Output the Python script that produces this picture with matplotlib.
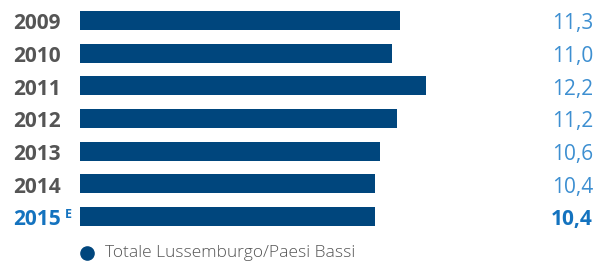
import matplotlib
matplotlib.use('Agg')
import matplotlib.pyplot as plt
import matplotlib.transforms as mtransforms

years = ['2009', '2010', '2011', '2012', '2013', '2014', '2015']
values = [11.3, 11.0, 12.2, 11.2, 10.6, 10.4, 10.4]
value_labels = ['11,3', '11,0', '12,2', '11,2', '10,6', '10,4', '10,4']
legend_label = 'Totale Lussemburgo/Paesi Bassi'

bar_color = '#00467d'
gray = '#555555'
light_blue = '#3d8fd1'
dark_blue = '#1473bf'

plt.rcParams['font.family'] = ['Open Sans', 'DejaVu Sans']

W, H = 598, 264
fig = plt.figure(figsize=(W / 100, H / 100), dpi=100)
ax = fig.add_axes([80 / W, 0, 1 - 80 / W, 1])
ax.axis('off')

px_per_unit = 28.32
pitch = 32.67
top = 20.5
ax.set_xlim(0, (W - 80) / px_per_unit)
ax.set_ylim((H - top) / pitch, -top / pitch)

ypos = list(range(len(years)))
ax.barh(ypos, values, height=19 / pitch, color=bar_color)

trans = mtransforms.blended_transform_factory(fig.transFigure, ax.transData)
for i, (y, lab) in enumerate(zip(years, value_labels)):
    last = i == len(years) - 1
    ax.text(13 / W, i + 0.1, y, transform=trans, ha='left', va='center',
            fontsize=15, fontweight='bold', color=dark_blue if last else gray)
    ax.text(593 / W, i + 0.1, lab, transform=trans, ha='right', va='center',
            fontsize=15, fontweight='bold' if last else 'normal',
            color=dark_blue if last else light_blue)

ax.text(65 / W, 6 - 0.05, 'E', transform=trans, ha='left', va='center',
        fontsize=9, fontweight='bold', color=dark_blue)

# legenda
ly = (253 - top) / pitch
ax.plot([7 / px_per_unit], [ly], 'o', markersize=9.5, color=bar_color, clip_on=False)
ax.text(105 / W, ly, legend_label, transform=trans, ha='left', va='center',
        fontsize=12.5, fontweight='light', color='#555555')

fig.savefig('out.png', dpi=100)
